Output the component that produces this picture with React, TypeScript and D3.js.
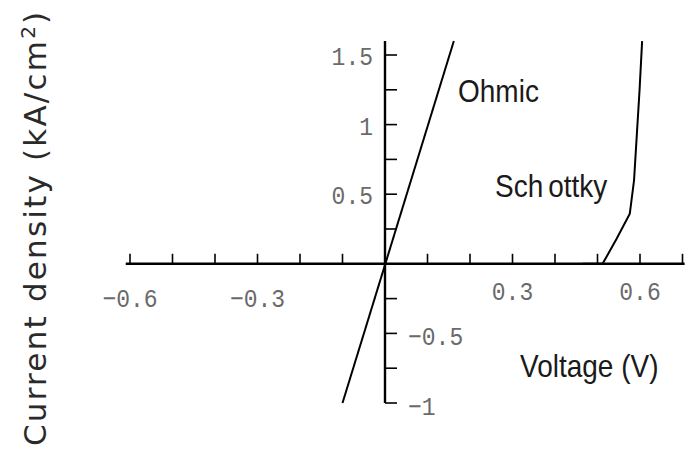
import React from "react";
import * as d3 from "d3";

// Current–voltage curves for an ohmic and a Schottky contact
const ohmicV = [-0.1, 0.162];
const ohmicJ = [-1, 1.6];
const schottkyV = [0.465, 0.512, 0.545, 0.576, 0.586, 0.593, 0.599, 0.605];
const schottkyJ = [0, 0, 0.18, 0.36, 0.6, 0.95, 1.25, 1.6];

const xTickValues = [-0.6, -0.5, -0.4, -0.3, -0.2, -0.1, 0.1, 0.2, 0.3, 0.4, 0.5, 0.6, 0.7];
const xTickLabels = [-0.6, -0.3, 0.3, 0.6];
const yTickValues = [-1, -0.75, -0.5, -0.25, 0.25, 0.5, 0.75, 1, 1.25, 1.5];
const yTickLabels = [-1, -0.5, 0.5, 1, 1.5];

const W = 693;
const H = 458;

const x = d3.scaleLinear().domain([0, 0.6]).range([385, 640]);
const y = d3.scaleLinear().domain([-1, 1.5]).range([403, 55]);

const fmt = (v: number) => (v < 0 ? "\u2212" + String(-v) : String(v));

const tickFont = "'Liberation Mono', 'DejaVu Sans Mono', monospace";
const labelFont = "'Liberation Sans', Arial, sans-serif";

export default function App() {
  const line = d3
    .line<[number, number]>()
    .x((d) => x(d[0]))
    .y((d) => y(d[1]));
  const ohmic = ohmicV.map((v, i) => [v, ohmicJ[i]] as [number, number]);
  const schottky = schottkyV.map((v, i) => [v, schottkyJ[i]] as [number, number]);

  const x0 = x(0);
  const y0 = y(0);

  return (
    <div style={{ position: "absolute", left: 0, top: 0 }}>
      <svg width={W} height={H} style={{ display: "block", background: "#fff" }}>
        {/* horizontal axis */}
        <line x1={x(-0.61)} x2={x(0.705)} y1={y0} y2={y0} stroke="#000" strokeWidth={2.4} />
        {xTickValues.map((v) => (
          <line key={"xt" + v} x1={x(v)} x2={x(v)} y1={y0} y2={y0 - 10} stroke="#000" strokeWidth={1.6} />
        ))}
        {xTickLabels.map((v) => (
          <text
            key={"xl" + v}
            transform={`translate(${x(v)},${v < 0 ? 306.5 : 299.5}) scale(1,1.12)`}
            textAnchor="middle"
            fontFamily={tickFont}
            fontSize={23}
            fill="#6a6a6a"
          >
            {fmt(v)}
          </text>
        ))}

        {/* vertical axis */}
        <line x1={x0} x2={x0} y1={y(1.6)} y2={y(-1)} stroke="#000" strokeWidth={2.4} />
        {yTickValues.map((v) => (
          <line key={"yt" + v} x1={x0} x2={x0 + 12} y1={y(v)} y2={y(v)} stroke="#000" strokeWidth={1.6} />
        ))}
        {yTickLabels.map((v) => (
          <text
            key={"yl" + v}
            transform={`translate(${v < 0 ? 408 : 373},${y(v) + (v < 0 ? 12 : 10)}) scale(1,1.12)`}
            textAnchor={v < 0 ? "start" : "end"}
            fontFamily={tickFont}
            fontSize={23}
            fill="#6a6a6a"
          >
            {fmt(v)}
          </text>
        ))}

        {/* curves */}
        <path d={line(ohmic) ?? ""} fill="none" stroke="#000" strokeWidth={2} />
        <path d={line(schottky) ?? ""} fill="none" stroke="#000" strokeWidth={2} />

        {/* curve and axis labels */}
        <text transform="translate(458,102) scale(1,1.12)" fontFamily={labelFont} fontSize={28} fill="#1a1a1a">
          Ohmic
        </text>
        <text transform="translate(495,197) scale(1,1.12)" fontFamily={labelFont} fontSize={28} fill="#1a1a1a">
          <tspan>Sch</tspan>
          <tspan dx={5}>ottky</tspan>
        </text>
        <text transform="translate(520,377) scale(1,1.12)" fontFamily={labelFont} fontSize={28} fill="#1a1a1a">
          Voltage (V)
        </text>
        <text
          transform="translate(46,446) rotate(-90)"
          fontFamily="'DejaVu Sans', Verdana, sans-serif"
          fontSize={31}
          letterSpacing={2.2}
          fill="#2a2a2a"
        >
          Current density (kA/cm
          <tspan dy={-11} fontSize={20}>
            2
          </tspan>
          <tspan dy={11}>)</tspan>
        </text>
      </svg>
    </div>
  );
}
